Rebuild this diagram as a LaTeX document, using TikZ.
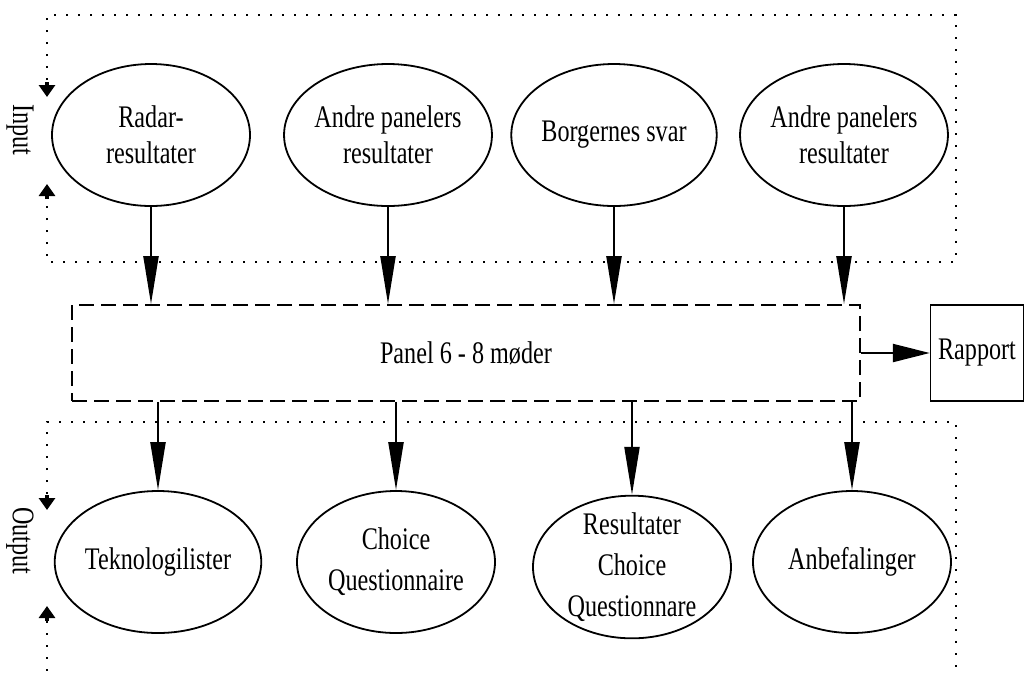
\documentclass[tikz,border=0pt]{standalone}
\usepackage{fontspec}
\setmainfont{Liberation Serif}[FakeStretch=0.77]
\usetikzlibrary{arrows.meta,shapes.geometric}

\begin{document}
\begin{tikzpicture}[x=0.5pt,y=-0.5pt,
    emne/.style={draw,ellipse,line width=0.9pt,minimum width=99pt,minimum height=71pt,
        inner sep=0pt,align=center,font=\fontsize{15.7}{18}\selectfont},
    emneud/.style={emne,font=\fontsize{15.7}{20.5}\selectfont},
    pil/.style={line width=1.1pt,-{Triangle[length=24pt,width=7.5pt]}},
    ramme/.style={line width=0.8pt,dash pattern=on 1.2pt off 4.8pt},
    maerke/.style={line width=1.6pt,-{Triangle[length=6pt,width=8pt]}},
    tekst/.style={font=\fontsize{15.7}{18}\selectfont}]
        \useasboundingbox[fill=white] (0,0) rectangle (1025,677);

        % input
        \draw[ramme] (47,80) -- (47,15) -- (956,15) -- (956,262) -- (47,262) -- (47,200);
        \draw[maerke] (47,82) -- (47,97);
        \draw[maerke] (47,199) -- (47,184);
        \node[tekst, rotate=-90] (inputtxt) at (20,130) {Input};

        \node[emne] (radar) at (151,135) {Radar-\\resultater};
        \node[emne] (andre1) at (388,135) {Andre panelers\\resultater};
        \node[emne] (borger) at (614,135) {Borgernes svar};
        \node[emne] (andre2) at (844,135) {Andre panelers\\resultater};

        % panel
        \node[tekst, draw, line width=0.9pt, dash pattern=on 7.5pt off 3.5pt,
            minimum width=394pt, minimum height=48pt] (panel) at (466,353) {Panel 6 - 8 møder};
        \node[tekst, draw, line width=0.7pt, minimum width=46.5pt, minimum height=48pt,
            inner sep=0pt] (rapport) at (977,353) {Rapport};

        \draw[pil] (radar.south) -- (radar.south |- panel.north);
        \draw[pil] (andre1.south) -- (andre1.south |- panel.north);
        \draw[pil] (borger.south) -- (borger.south |- panel.north);
        \draw[pil] (andre2.south) -- (andre2.south |- panel.north);
        \draw[line width=1.1pt, -{Triangle[length=18.5pt,width=9pt]}] (panel.east) -- (rapport.west);

        % output
        \draw[ramme] (47,494) -- (47,422) -- (956,422) -- (956,675);
        \draw[ramme] (47,621) -- (47,675);
        \draw[maerke] (47,495) -- (47,510);
        \draw[maerke] (47,621) -- (47,606);
        \node[tekst, rotate=-90] (outputtxt) at (20,541) {Output};

        \node[emneud] (tekno) at (158,562) {Teknologilister};
        \node[emneud] (choice) at (396,562) {Choice\\Questionnaire};
        \node[emneud, inner ysep=-2pt] (resultat) at (632,567) {Resultater\\Choice\\Questionnare};
        \node[emneud] (anbef) at (852,562) {Anbefalinger};

        \draw[pil] (tekno.north |- panel.south) -- (tekno.north);
        \draw[pil] (choice.north |- panel.south) -- (choice.north);
        \draw[pil] (resultat.north |- panel.south) -- (resultat.north);
        \draw[pil] (anbef.north |- panel.south) -- (anbef.north);

    \end{tikzpicture}
\end{document}
